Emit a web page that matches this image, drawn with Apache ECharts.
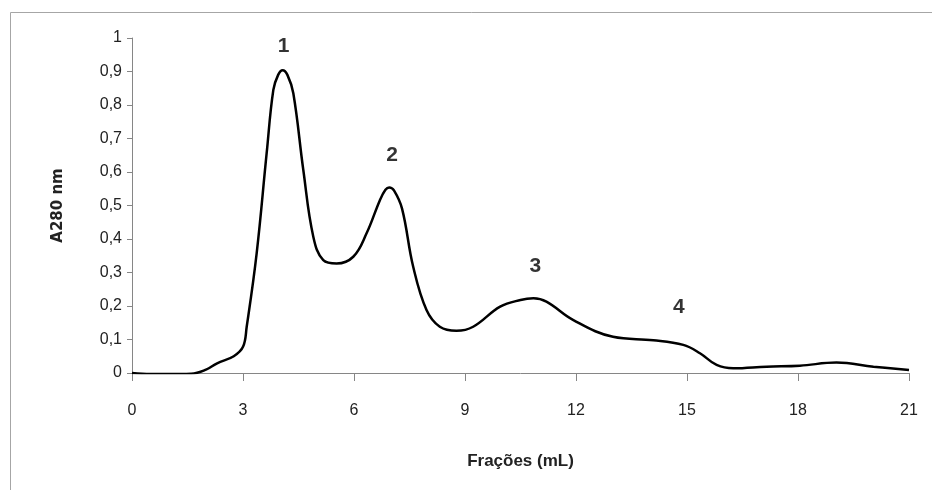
<!DOCTYPE html>
<html>
<head>
  <meta charset="utf-8">
  <title>A280 nm</title>
  <script src="https://cdn.jsdelivr.net/npm/echarts@6/dist/echarts.min.js"></script>
  <style>
    html, body { margin: 0; padding: 0; background: #fff; }
    #chart { width: 932px; height: 490px; }
  </style>
</head>
<body>
  <div id="chart"></div>
  <script>
    var fracoes = [0, 0.5, 1.0, 1.6, 2.0, 2.3, 2.75, 3.0, 3.1, 3.37, 3.64, 3.82, 3.95, 4.07, 4.2, 4.36, 4.63, 4.9, 5.17, 5.53, 5.98, 6.34, 6.7, 6.85, 6.95, 7.08, 7.3, 7.6, 7.96, 8.32, 8.77, 9.22, 9.95, 10.5, 10.85, 11.2, 11.93, 13.0, 14.09, 14.9, 15.35, 15.8, 16.25, 17.15, 18.05, 19.04, 20.04, 21.0];
    var absorbancia = [0, -0.003, -0.003, -0.002, 0.01, 0.029, 0.05, 0.078, 0.138, 0.358, 0.657, 0.845, 0.89, 0.904, 0.89, 0.835, 0.606, 0.407, 0.337, 0.327, 0.347, 0.417, 0.516, 0.547, 0.554, 0.545, 0.49, 0.317, 0.188, 0.138, 0.126, 0.138, 0.198, 0.218, 0.223, 0.213, 0.158, 0.108, 0.098, 0.084, 0.059, 0.024, 0.014, 0.019, 0.022, 0.031, 0.019, 0.009];
    var picos = ['1', '2', '3', '4'];
    var picosX = [4.1, 7.03, 10.9, 14.78];
    var picosY = [0.976, 0.651, 0.319, 0.197];

    var chart = echarts.init(document.getElementById('chart'));
    var curva = fracoes.map(function (x, i) { return [x, absorbancia[i]]; });
    var rotulos = picos.map(function (n, i) { return { name: n, value: [picosX[i], picosY[i]] }; });
    var fonte = '"Liberation Sans", sans-serif';

    var option = {
      animation: false,
      graphic: [{
        type: 'rect',
        shape: { x: 10.5, y: 12.5, width: 940, height: 500 },
        style: { fill: 'none', stroke: '#a6a6a6', lineWidth: 1 },
        silent: true
      }],
      grid: { left: 132, right: 23, top: 38, bottom: 117 },
      xAxis: {
        type: 'value',
        min: 0, max: 21, interval: 3,
        name: 'Frações (mL)',
        nameLocation: 'middle',
        nameGap: 80,
        nameTextStyle: { fontFamily: fonte, fontSize: 17, fontWeight: 'bold', color: '#222' },
        axisLine: { lineStyle: { color: '#868686', width: 1 } },
        axisTick: { show: true, length: 8, lineStyle: { color: '#868686' } },
        axisLabel: { margin: 30, fontFamily: fonte, fontSize: 16, color: '#222' },
        splitLine: { show: false }
      },
      yAxis: {
        type: 'value',
        min: 0, max: 1, interval: 0.1,
        name: 'A280 nm',
        nameLocation: 'middle',
        nameGap: 66,
        nameTextStyle: { fontFamily: '"DejaVu Sans", sans-serif', fontSize: 15, fontWeight: 'bold', color: '#222' },
        axisLine: { show: true, lineStyle: { color: '#868686', width: 1 } },
        axisTick: { show: true, length: 5, lineStyle: { color: '#868686' } },
        axisLabel: {
          margin: 10, fontFamily: fonte, fontSize: 16, color: '#222',
          formatter: function (v) { return String(Math.round(v * 10) / 10).replace('.', ','); }
        },
        splitLine: { show: false }
      },
      series: [
        {
          type: 'line',
          data: curva,
          smooth: 0.4,
          showSymbol: false,
          lineStyle: { color: '#000', width: 2.5 }
        },
        {
          type: 'scatter',
          data: rotulos,
          symbolSize: 0,
          label: {
            show: true, position: 'inside', formatter: '{b}',
            fontFamily: fonte, fontSize: 21, fontWeight: 'bold', color: '#000'
          }
        }
      ]
    };
    chart.setOption(option);
  </script>
</body>
</html>
